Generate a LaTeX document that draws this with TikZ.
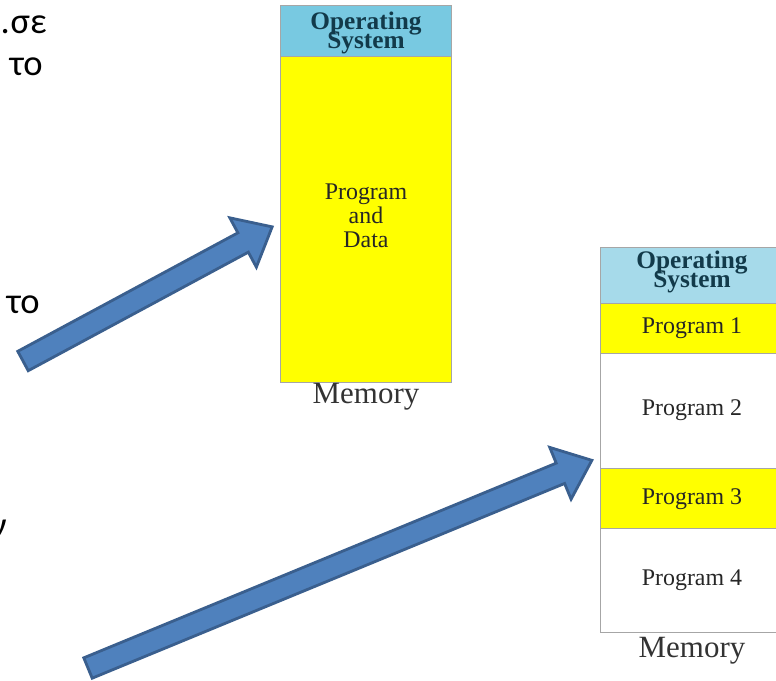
\documentclass[tikz,border=0pt]{standalone}
\usepackage{fontspec}
\setmainfont{Liberation Serif}
\newfontfamily\greekfont{Carlito}
\usetikzlibrary{positioning}

\definecolor{osblue}{HTML}{78C9E1}
\definecolor{osbluelight}{HTML}{A6DAEA}
\definecolor{memyellow}{HTML}{FFFF00}
\definecolor{ostext}{HTML}{123A4A}
\definecolor{arrowfill}{HTML}{4F81BD}
\definecolor{arrowline}{HTML}{3A5F8E}

\begin{document}
\begin{tikzpicture}[x=0.025cm,y=-0.025cm]
  \tikzstyle{cell}=[draw=gray!70,line width=0.6pt]
  \tikzstyle{oslabel}=[text=ostext,font={\fontsize{18}{13.5}\selectfont\bfseries\setlength{\lineskiplimit}{-50pt}},align=center,inner sep=0pt]
  \tikzstyle{proglabel}=[text=black!85,font=\fontsize{17}{17}\selectfont,align=center,inner sep=0pt]
  \tikzstyle{memlabel}=[text=black!80,font=\fontsize{22}{22}\selectfont,inner sep=0pt,anchor=base]
  \tikzstyle{greek}=[font=\greekfont\fontsize{26}{30}\selectfont,inner sep=0pt,anchor=base east]
  \tikzstyle{fatarrow}=[fill=arrowfill,draw=arrowline,line width=2pt,line join=miter]
  \useasboundingbox (0,0) rectangle (776,680);
  \clip (0,0) rectangle (776,680);

  % text cut at the left edge
  \node[greek] (lineA) at (47,33) {.\hspace{0.5pt}σε};
  \node[greek] (lineB) at (43,75) {το};
  \node[greek] (lineC) at (40,313) {το};
  \node[greek] (lineD) at (7,537) {ν};
  \node[greek] (lineE) at (2,622) {.};

  % memory with one program
  \draw[cell,fill=osblue] (280,5) rectangle (451,56);
  \draw[cell,fill=memyellow] (280,56) rectangle (451,382);
  \node[oslabel] (osA) at (366,32.5) {Operating\\System};
  \node[proglabel] (progdata) at (366,216) {Program\\and\\Data};
  \node[memlabel] (memA) at (366,403) {Memory};

  % memory with four programs
  \draw[cell,fill=osbluelight] (600,247) rectangle (784,303);
  \draw[cell,fill=memyellow] (600,303) rectangle (784,353);
  \draw[cell,fill=white] (600,353) rectangle (784,468);
  \draw[cell,fill=memyellow] (600,468) rectangle (784,528);
  \draw[cell,fill=white] (600,528) rectangle (784,632);
  \node[oslabel] (osB) at (692,272) {Operating\\System};
  \node[proglabel] (progA) at (692,328) {Program 1};
  \node[proglabel] (progB) at (692,410.5) {Program 2};
  \node[proglabel] (progC) at (692,499) {Program 3};
  \node[proglabel] (progD) at (692,580) {Program 4};
  \node[memlabel] (memB) at (692,657) {Memory};

  % block arrows
  \begin{scope}[shift={(23,361)},rotate=28.3]
    \draw[fatarrow] (0,-11) -- (250,-11) -- (250,-28) -- (283,0) -- (250,28) -- (250,11) -- (0,11) -- cycle;
  \end{scope}
  \begin{scope}[shift={(88,668)},rotate=22.4]
    \draw[fatarrow] (0,-11) -- (511,-11) -- (511,-28) -- (545,0) -- (511,28) -- (511,11) -- (0,11) -- cycle;
  \end{scope}
\end{tikzpicture}
\end{document}
